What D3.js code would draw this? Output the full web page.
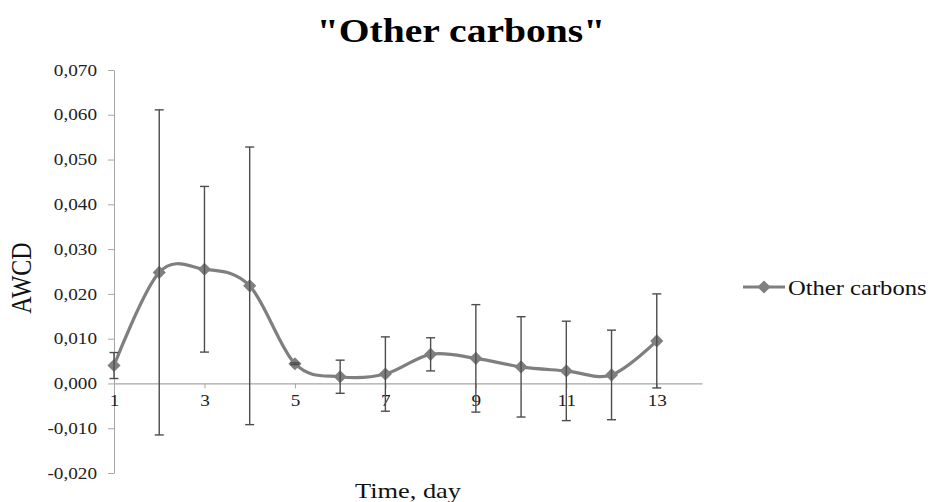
<!DOCTYPE html>
<html>
<head>
<meta charset="utf-8">
<script src="https://cdn.jsdelivr.net/npm/d3@7/dist/d3.min.js"></script>
<style>
  html, body { margin: 0; padding: 0; background: #fff; }
  svg { display: block; }
  svg text { font-family: "Liberation Serif", "Times New Roman", Times, serif !important; }
</style>
</head>
<body>
<svg id="chart" width="930" height="502"></svg>
<script>
// Average well colour development for the "other carbons" guild, days 1–13
const days = [1, 2, 3, 4, 5, 6, 7, 8, 9, 10, 11, 12, 13];
const awcd = [0.0040, 0.0248, 0.0255, 0.0218, 0.0044, 0.0015, 0.0021, 0.0065, 0.0056, 0.0037, 0.0028, 0.0019, 0.0095];
const errs = [0.0029, 0.0363, 0.0185, 0.0310, 0.0002, 0.0037, 0.0083, 0.0037, 0.0120, 0.0112, 0.0111, 0.0100, 0.0105];
const xTickLabels = [1, 3, 5, 7, 9, 11, 13];
const yTickValues = [-0.02, -0.01, 0, 0.01, 0.02, 0.03, 0.04, 0.05, 0.06, 0.07];
const seriesName = "Other carbons";
const titleText = "\"Other carbons\"";
const xTitle = "Time, day";
const yTitle = "AWCD";

const SX = 1.2; // horizontal text stretch
const serif = "'Liberation Serif', 'Times New Roman', Times, serif";
const svg = d3.select("#chart");

const x = d3.scaleLinear().domain([1, 14]).range([114, 702]);
const y = d3.scaleLinear().domain([-0.02, 0.07]).range([473, 70]);

const axisColor = "#a6a6a6";
const lineColor = "#7f7f7f";
const barColor = "#4d4d4d";

function stretch(sel) {
  sel.style("font-family", serif)
    .attr("transform", function () {
      const tx = +this.getAttribute("x") || 0;
      return `translate(${tx},0) scale(${SX},1) translate(${-tx},0)`;
    });
}

// y axis
const fmt = v => d3.format(".3f")(v).replace("\u2212", "-").replace(".", ",");
const yAxis = svg.append("g")
  .attr("transform", `translate(${x(1)},0)`)
  .call(d3.axisLeft(y).tickValues(yTickValues).tickFormat(fmt).tickSize(6).tickSizeOuter(0).tickPadding(11));
yAxis.attr("font-family", null);
yAxis.select(".domain").attr("stroke", axisColor).attr("stroke-width", 1);
yAxis.selectAll(".tick line").attr("stroke", axisColor);
yAxis.selectAll(".tick text")
  .attr("font-size", 16)
  .attr("fill", "#222")
  .call(stretch);

// x axis along zero
const xAxis = svg.append("g")
  .attr("transform", `translate(0,${y(0)})`)
  .call(d3.axisBottom(x).tickValues(xTickLabels).tickFormat(d3.format("d")).tickSize(5).tickSizeOuter(0).tickPadding(6));
xAxis.attr("font-family", null);
xAxis.select(".domain").attr("stroke", axisColor).attr("stroke-width", 1.2);
xAxis.selectAll(".tick line").attr("stroke", axisColor);
xAxis.selectAll(".tick text")
  .attr("font-size", 16)
  .attr("fill", "#222")
  .call(stretch);

const data = days.map((d, i) => ({ day: d, v: awcd[i], e: errs[i] }));

// smoothed series line
const line = d3.line()
  .x(d => x(d.day))
  .y(d => y(d.v))
  .curve(d3.curveCardinal.tension(0));
svg.append("path")
  .datum(data)
  .attr("d", line)
  .attr("fill", "none")
  .attr("stroke", lineColor)
  .attr("stroke-width", 3.2);

// diamond markers
const diamond = d3.symbol().type(d3.symbolDiamond2).size(110);
svg.append("g").selectAll("path")
  .data(data)
  .join("path")
  .attr("d", diamond)
  .attr("transform", d => `translate(${x(d.day)},${y(d.v)})`)
  .attr("fill", lineColor);

// error bars
const eb = svg.append("g")
  .attr("stroke", barColor)
  .attr("stroke-width", 1.4)
  .selectAll("g")
  .data(data)
  .join("g");
eb.append("line")
  .attr("x1", d => x(d.day)).attr("x2", d => x(d.day))
  .attr("y1", d => y(d.v + d.e)).attr("y2", d => y(d.v - d.e));
eb.append("line")
  .attr("x1", d => x(d.day) - 4.5).attr("x2", d => x(d.day) + 4.5)
  .attr("y1", d => y(d.v + d.e)).attr("y2", d => y(d.v + d.e));
eb.append("line")
  .attr("x1", d => x(d.day) - 4.5).attr("x2", d => x(d.day) + 4.5)
  .attr("y1", d => y(d.v - d.e)).attr("y2", d => y(d.v - d.e));

// title
svg.append("text")
  .attr("x", 461).attr("y", 42)
  .attr("text-anchor", "middle")
  .attr("font-size", 33)
  .attr("font-weight", "bold")
  .attr("fill", "#000")
  .text(titleText)
  .call(stretch);

// axis titles
svg.append("text")
  .attr("x", 408).attr("y", 498)
  .attr("text-anchor", "middle")
  .attr("font-size", 22)
  .attr("fill", "#111")
  .text(xTitle)
  .call(stretch);

svg.append("g")
  .attr("transform", `translate(31,278) scale(${SX},1) rotate(-90)`)
  .append("text")
  .attr("text-anchor", "middle")
  .attr("font-size", 24)
  .attr("fill", "#111")
  .style("font-family", serif)
  .text(yTitle);

// legend
const lg = svg.append("g").attr("transform", "translate(743,287)");
lg.append("line").attr("x1", 0).attr("x2", 42).attr("stroke", lineColor).attr("stroke-width", 3);
lg.append("path").attr("d", diamond).attr("transform", "translate(21,0)").attr("fill", lineColor);
lg.append("text")
  .attr("x", 45).attr("y", 7.5)
  .attr("font-size", 20.5)
  .attr("fill", "#111")
  .text(seriesName)
  .call(stretch);
</script>
</body>
</html>
